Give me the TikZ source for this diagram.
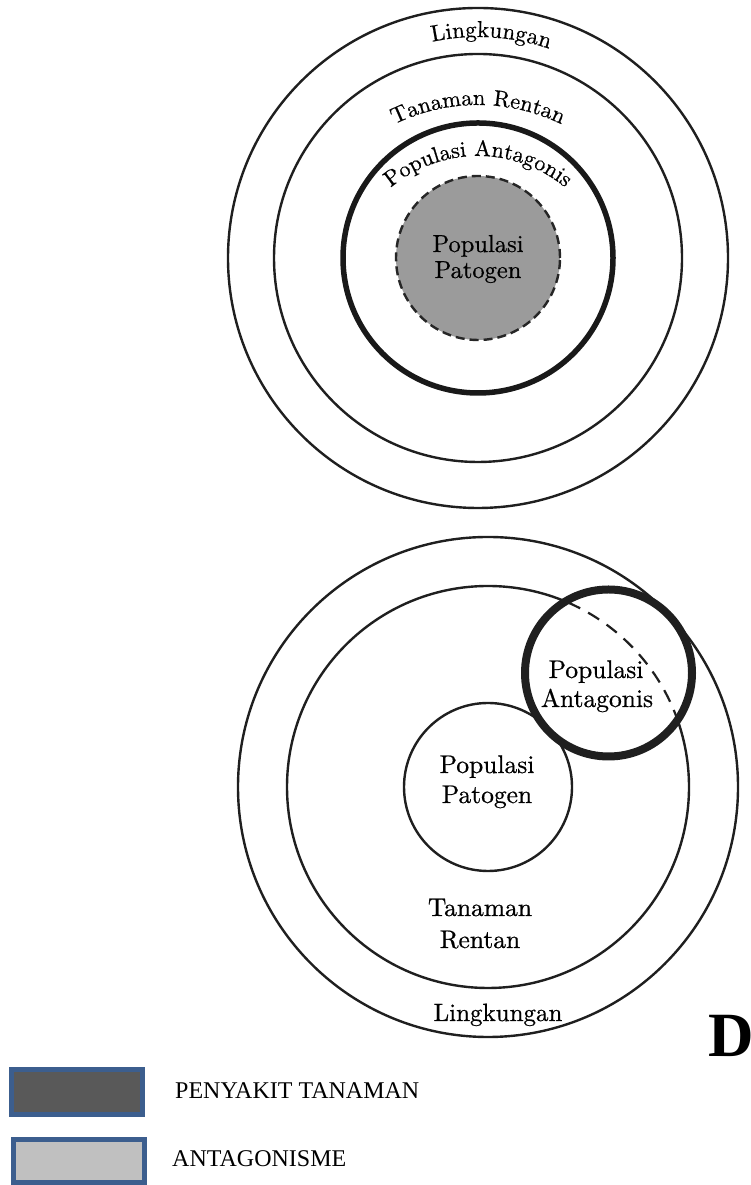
\documentclass[tikz,border=0pt]{standalone}
\usepackage{fontspec}
\newfontfamily\legendfont{Liberation Serif}
\newfontfamily\diagfont{lmroman10-regular}[Extension=.otf, FakeBold=0.6]
\usetikzlibrary{decorations.text}

\definecolor{patfill}{RGB}{155,155,155}
\definecolor{legdark}{RGB}{89,89,89}
\definecolor{leglight}{RGB}{192,192,192}
\definecolor{legedge}{RGB}{60,94,142}

\newcommand{\dfont}[1]{\diagfont\fontsize{#1}{#1}\selectfont}

\begin{document}
\begin{tikzpicture}[x=1pt,y=1pt,
  ring/.style={draw=black!88, line width=2.4pt},
  thickring/.style={draw=black!90, line width=5.5pt},
  heavyring/.style={draw=black!88, line width=8pt},
  dashring/.style={draw=black!88, line width=2.2pt, dash pattern=on 13pt off 9pt},
  patdash/.style={draw=black!85, line width=2.4pt, dash pattern=on 9pt off 5pt, fill=patfill},
  lab/.style={font=\dfont{24.5}, inner sep=0pt, anchor=base},
  blab/.style={font=\dfont{25.5}, inner sep=0pt, anchor=base},
  legbox/.style={draw=legedge, line width=5pt},
  legtext/.style={font=\legendfont\fontsize{24}{24}\selectfont, inner sep=0pt, anchor=base west},
  arctext/.style={decorate, decoration={text along path, text align=center, text={#1}}}
]
\useasboundingbox (0,0) rectangle (751,1185);

% ---------- concentric model ----------
\coordinate (T) at (478,927);
\draw[ring] (T) circle[radius=250];
\draw[ring] (T) circle[radius=204];
\draw[thickring] (T) circle[radius=135];
\draw[patdash] (T) circle[radius=82];

\path[arctext={|\dfont{23}|Lingkungan}]
  ([shift={(126.6:221)}]T) arc[start angle=126.6, end angle=46.6, radius=221];
\coordinate (Tr) at (478,890);
\path[arctext={|\dfont{22.5}|Tanaman Rentan}]
  ([shift={(145:190)}]Tr) arc[start angle=145, end angle=35, radius=190];
\coordinate (Ta) at (478,893);
\path[arctext={|\dfont{22.3}|Populasi Antagonis}]
  ([shift={(145:136)}]Ta) arc[start angle=145, end angle=35, radius=136];

\node[lab] (tp1) at (478,933) {Populasi};
\node[lab] (tp2) at (478,907) {Patogen};

% ---------- overlapping model ----------
\coordinate (B) at (488,398);
\coordinate (A) at (608.5,512);
\draw[ring] (B) circle[radius=250];
\draw[ring] (B) circle[radius=201];
\draw[ring] (B) circle[radius=84];
\fill[white] (A) circle[radius=83.5];
\begin{scope}
  \clip (A) circle[radius=80];
  \draw[dashring] (B) circle[radius=201];
\end{scope}
\draw[heavyring] (A) circle[radius=83.5];

\node[blab] (ba1) at (596,507) {Populasi};
\node[blab] (ba2) at (597,478) {Antagonis};
\node[blab] (bp1) at (487,412) {Populasi};
\node[blab] (bp2) at (487,382) {Patogen};
\node[blab] (bt1) at (480,269) {Tanaman};
\node[blab] (bt2) at (480,237) {Rentan};
\node[font=\dfont{25}, inner sep=0pt, anchor=base] (bl) at (498,164) {Lingkungan};

\node[font=\legendfont\bfseries\fontsize{63}{63}\selectfont, inner sep=0pt, anchor=base west] (dlet) at (708,128) {D};

% ---------- legend ----------
\draw[legbox, fill=legdark] (11.5,70.5) rectangle (142.5,115.5);
\draw[legbox, fill=leglight] (13.5,2.5) rectangle (144.5,45.5);
\node[legtext] (l1) at (175,86) {PENYAKIT TANAMAN};
\node[legtext] (l2) at (172,18) {ANTAGONISME};
\end{tikzpicture}
\end{document}
